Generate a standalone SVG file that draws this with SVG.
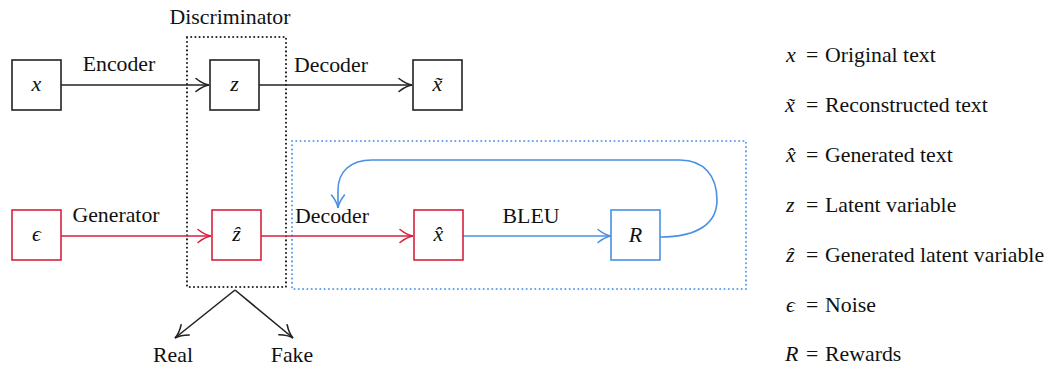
<svg xmlns="http://www.w3.org/2000/svg" width="1051" height="367" viewBox="0 0 1051 367">
<style>
.bg{fill:#ffffff}
.box{fill:#ffffff;stroke-width:1.6}
.k{stroke:#222222}
.r{stroke:#d8213f}
.b{stroke:#4a90e2}
.ln{fill:none;stroke-width:1.6}
.lbl{font-family:"Liberation Serif","Times New Roman",serif;font-size:21.8px;fill:#111111}
.math{font-family:"Liberation Serif","DejaVu Serif",serif;font-style:italic;font-size:22px;fill:#111111}
.dotk{fill:none;stroke:#222222;stroke-width:2.1;stroke-dasharray:0 4.2;stroke-linecap:round}
.dotb{fill:none;stroke:#5f9fea;stroke-width:2.1;stroke-dasharray:0 4.3;stroke-linecap:round}
</style>
<defs>
<marker id="ak" viewBox="-15 -9 17 18" refX="0" refY="0" markerWidth="17" markerHeight="18" markerUnits="userSpaceOnUse" orient="auto">
<path d="M-13,-6.5 C-8,-2.5 -4,-0.6 0,0 C-4,0.6 -8,2.5 -13,6.5" fill="none" stroke="#222222" stroke-width="1.6" stroke-linecap="round"/>
</marker>
<marker id="ar" viewBox="-15 -9 17 18" refX="0" refY="0" markerWidth="17" markerHeight="18" markerUnits="userSpaceOnUse" orient="auto">
<path d="M-13,-6.5 C-8,-2.5 -4,-0.6 0,0 C-4,0.6 -8,2.5 -13,6.5" fill="none" stroke="#d8213f" stroke-width="1.6" stroke-linecap="round"/>
</marker>
<marker id="ab" viewBox="-15 -9 17 18" refX="0" refY="0" markerWidth="17" markerHeight="18" markerUnits="userSpaceOnUse" orient="auto">
<path d="M-13,-6.5 C-8,-2.5 -4,-0.6 0,0 C-4,0.6 -8,2.5 -13,6.5" fill="none" stroke="#4a90e2" stroke-width="1.6" stroke-linecap="round"/>
</marker>
</defs>
<rect class="bg" x="0" y="0" width="1051" height="367"/>

<g id="discriminator">
<rect class="dotk" x="187" y="37" width="99" height="250"/>
<text class="lbl" x="230" y="24" text-anchor="middle">Discriminator</text>
</g>
<g id="reward-region">
<rect class="dotb" x="292" y="141" width="454" height="148"/>
</g>

<g id="connectors">
<line class="ln k" x1="61" y1="85" x2="209" y2="85" marker-end="url(#ak)"/>
<text class="lbl" x="119" y="71" text-anchor="middle">Encoder</text>
<line class="ln k" x1="259" y1="85" x2="412" y2="85" marker-end="url(#ak)"/>
<text class="lbl" x="331" y="72" text-anchor="middle">Decoder</text>
<line class="ln r" x1="61" y1="236" x2="211" y2="236" marker-end="url(#ar)"/>
<text class="lbl" x="116" y="222" text-anchor="middle">Generator</text>
<line class="ln r" x1="261" y1="236" x2="413" y2="236" marker-end="url(#ar)"/>
<text class="lbl" x="332" y="223" text-anchor="middle">Decoder</text>
<line class="ln b" x1="463" y1="236" x2="611" y2="236" marker-end="url(#ab)"/>
<text class="lbl" x="531" y="223" text-anchor="middle">BLEU</text>
<path class="ln b" d="M660,237 C700,237 717,222 717,200 C717,176 704,160 680,160 L372,160 C350,160 338,172 338,190 L338,208" marker-end="url(#ab)"/>
<line class="ln k" x1="235" y1="290" x2="175" y2="338" marker-end="url(#ak)"/>
<line class="ln k" x1="235" y1="290" x2="293" y2="338" marker-end="url(#ak)"/>
</g>

<g id="node-x">
<rect class="box k" x="12" y="60" width="49" height="50"/>
<text class="math" x="36.5" y="91" text-anchor="middle">x</text>
</g>
<g id="node-z">
<rect class="box k" x="210" y="60" width="49" height="50"/>
<text class="math" x="234.5" y="91" text-anchor="middle">z</text>
</g>
<g id="node-xtilde">
<rect class="box k" x="413" y="60" width="49" height="50"/>
<text class="math" x="437.5" y="91" text-anchor="middle">x̃</text>
</g>
<g id="node-eps">
<rect class="box r" x="12" y="210" width="49" height="50"/>
<text class="math" x="36.5" y="241" text-anchor="middle">ϵ</text>
</g>
<g id="node-zhat">
<rect class="box r" x="212" y="210" width="49" height="50"/>
<text class="math" x="236.5" y="241" text-anchor="middle">ẑ</text>
</g>
<g id="node-xhat">
<rect class="box r" x="414" y="210" width="49" height="50"/>
<text class="math" x="438.5" y="241" text-anchor="middle">x̂</text>
</g>
<g id="node-R">
<rect class="box b" x="611" y="210" width="49" height="50"/>
<text class="math" x="635.5" y="242" text-anchor="middle">R</text>
</g>

<g id="node-Real"><text class="lbl" x="173" y="362" text-anchor="middle">Real</text></g>
<g id="node-Fake"><text class="lbl" x="292" y="362" text-anchor="middle">Fake</text></g>

<g id="legend">
<text class="math" x="786" y="62">x</text><text class="lbl" x="806" y="62">=</text><text class="lbl" x="825" y="62">Original text</text>
<text class="math" x="785" y="112">x̃</text><text class="lbl" x="806" y="112">=</text><text class="lbl" x="825" y="112">Reconstructed text</text>
<text class="math" x="786" y="162">x̂</text><text class="lbl" x="806" y="162">=</text><text class="lbl" x="825" y="162">Generated text</text>
<text class="math" x="786" y="212">z</text><text class="lbl" x="806" y="212">=</text><text class="lbl" x="825" y="212">Latent variable</text>
<text class="math" x="786" y="262">ẑ</text><text class="lbl" x="806" y="262">=</text><text class="lbl" x="825" y="262">Generated latent variable</text>
<text class="math" x="786" y="312">ϵ</text><text class="lbl" x="806" y="312">=</text><text class="lbl" x="825" y="312">Noise</text>
<text class="math" x="785" y="361">R</text><text class="lbl" x="806" y="361">=</text><text class="lbl" x="825" y="361">Rewards</text>
</g>
</svg>
